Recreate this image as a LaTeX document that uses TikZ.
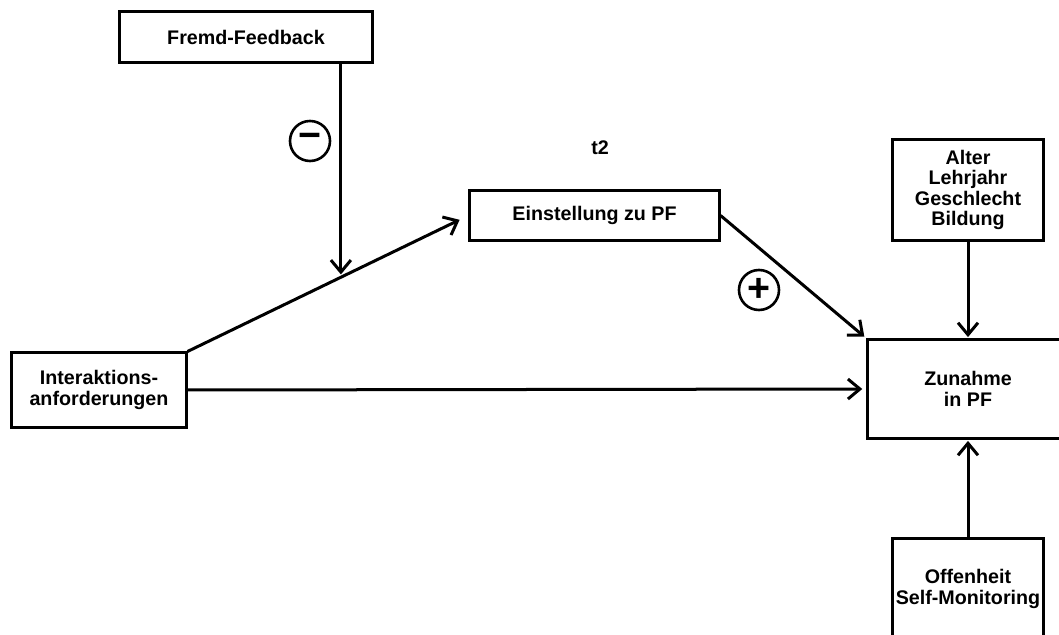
\documentclass[tikz,border=0pt]{standalone}
\usepackage{fontspec}
\setmainfont{Liberation Sans}
\usetikzlibrary{arrows.meta}

\begin{document}
\begin{tikzpicture}[x=0.025cm, y=-0.025cm,
	box/.style={draw, line width=0.075cm, align=center, inner sep=0pt, font=\fontsize{14}{14.5}\selectfont\bfseries},
	sign/.style={draw, circle, line width=0.065cm, minimum size=1cm, inner sep=0pt, font=\fontsize{28}{28}\selectfont\bfseries},
	pfeil/.style={line width=0.075cm, -{Straight Barb[length=0.3cm, width=0.5cm, line width=0.075cm]}}]
		\clip (0,0) rectangle (1059,635);

		\node[box, minimum width=6.3cm, minimum height=1.25cm] (feedback) at (246,37) {Fremd-Feedback};
		\node[box, minimum width=4.35cm, minimum height=1.85cm] (inter) at (99,390) {Interaktions-\\anforderungen};
		\node[box, minimum width=6.225cm, minimum height=1.225cm] (einst) at (594.5,215.5) {Einstellung zu PF};
		\node[box, minimum width=5cm, minimum height=2.45cm] (zunahme) at (968,389) {Zunahme\\in PF};
		\node[box, minimum width=3.75cm, minimum height=2.5cm] (alter) at (968,190) {Alter\\Lehrjahr\\Geschlecht\\Bildung};
		\node[box, minimum width=3.75cm, minimum height=2.5cm] (offen) at (968,589) {Offenheit\\Self-Monitoring};
		\node[font=\fontsize{14}{14}\selectfont\bfseries] (t2) at (600,148) {t2};

		\node[sign] (minus) at (310,141) {−};
		\node[sign] (plus) at (759,290) {+};

		\draw[pfeil, shorten >=7pt] (inter.north east) -- (einst.west) coordinate[pos=0.546] (hit);
		\draw[pfeil, shorten >=2pt] (feedback.south -| hit) -- (hit);
		\draw[pfeil, shorten >=2pt] (einst.east) -- (zunahme.north west);
		\draw[pfeil, shorten >=3pt] (inter.east) -- (zunahme.west);
		\draw[pfeil, shorten >=1pt] (alter.south) -- (zunahme.north);
		\draw[pfeil, shorten >=1pt] (offen.north) -- (zunahme.south);
	\end{tikzpicture}
\end{document}
